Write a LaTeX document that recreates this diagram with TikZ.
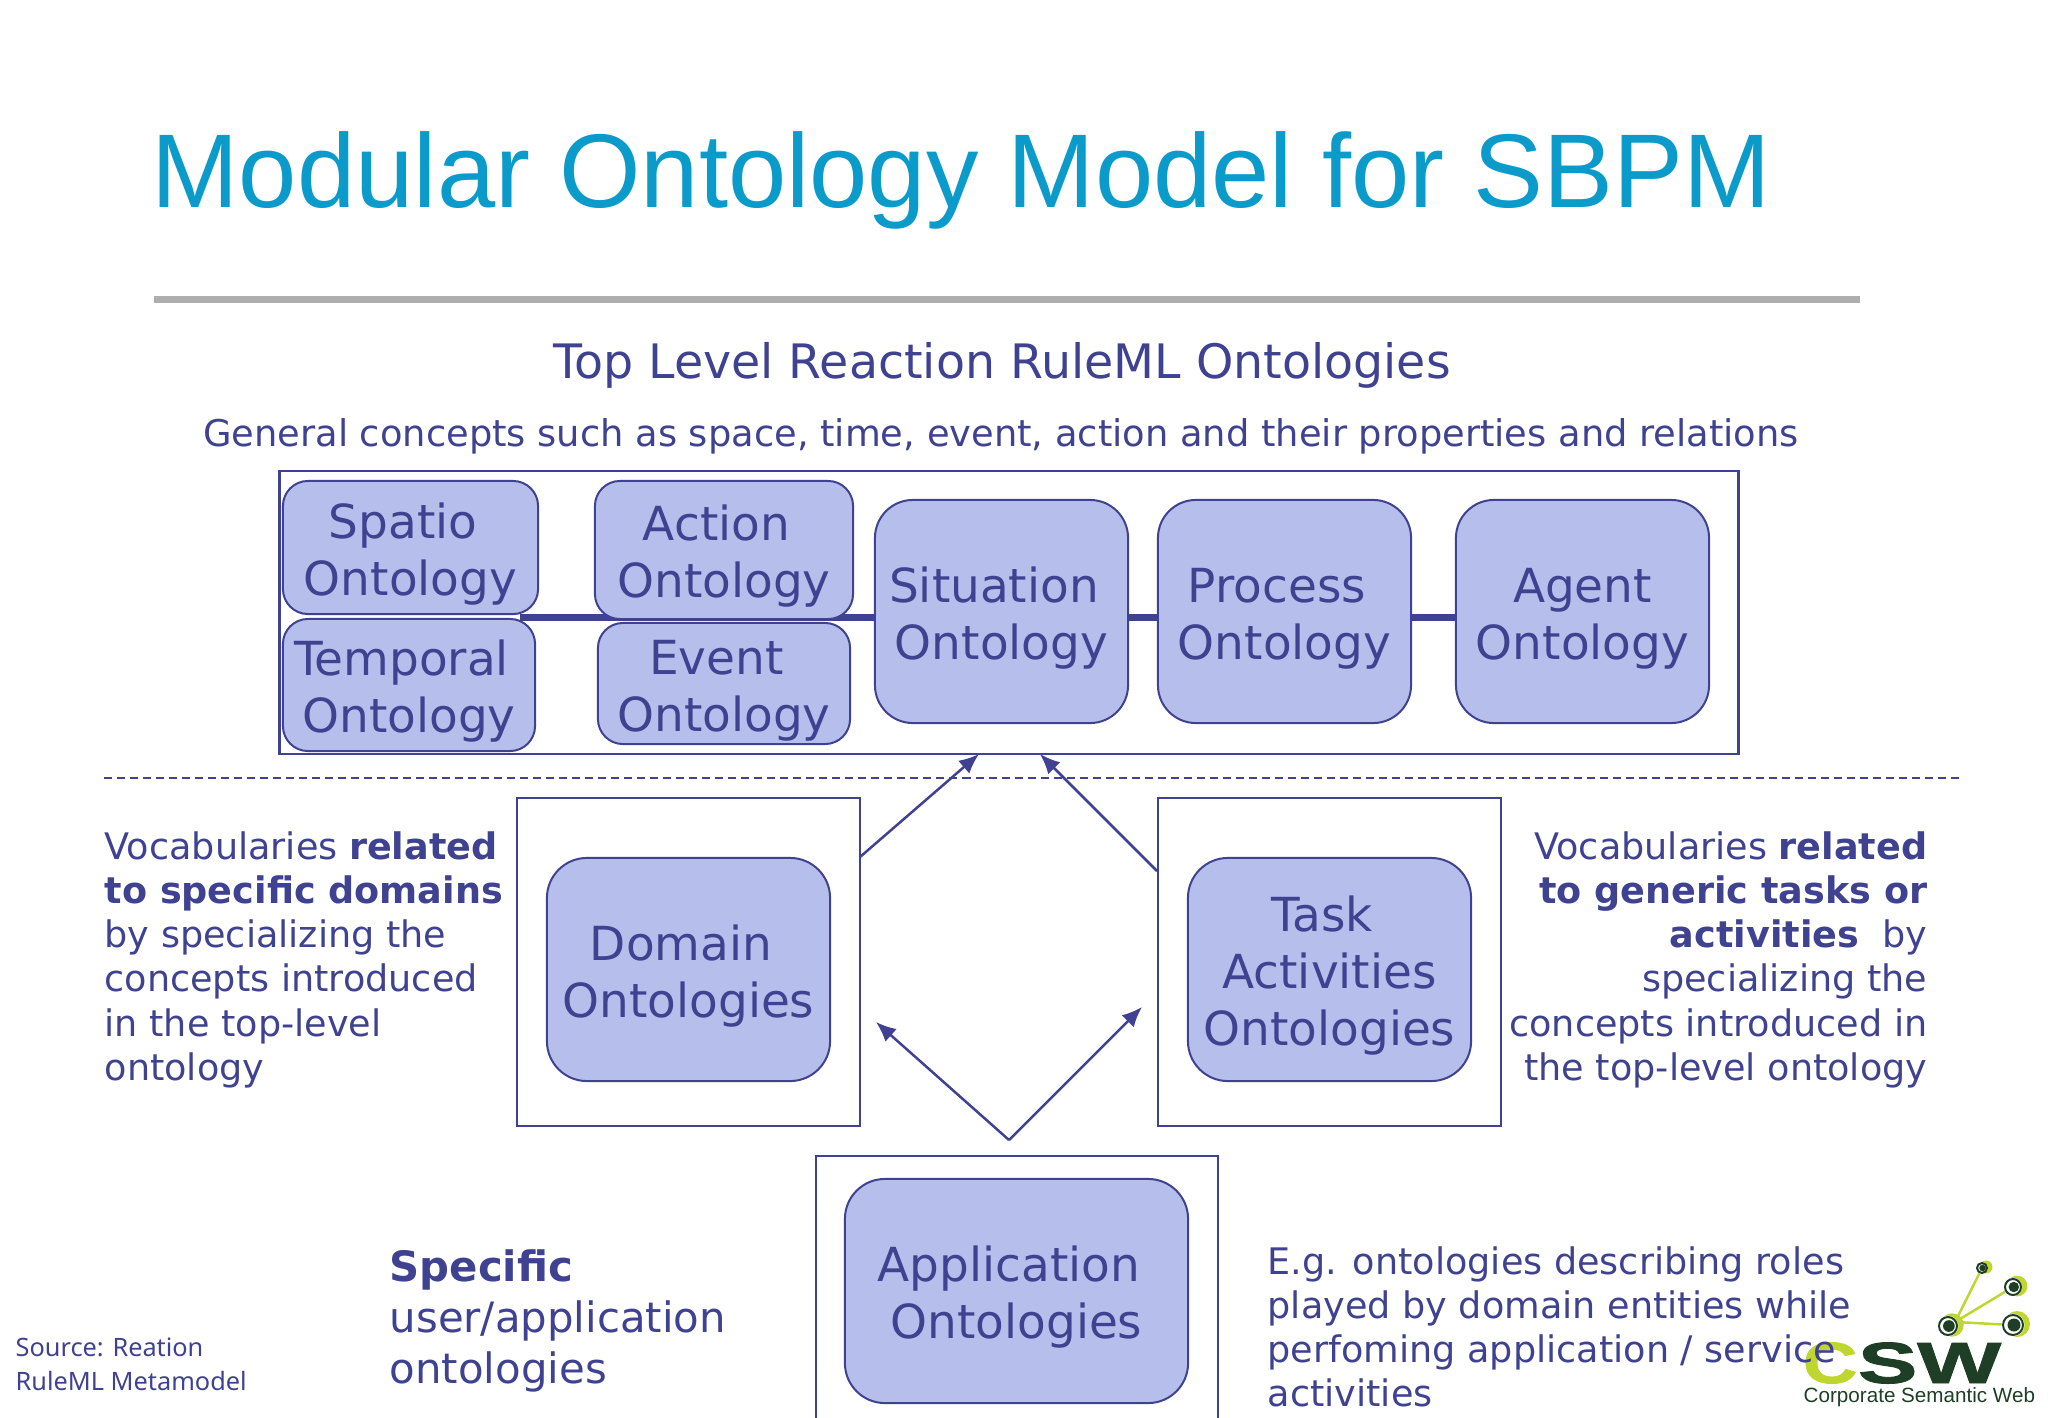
\documentclass[tikz,border=0pt]{standalone}
\usepackage{fontspec}
\setmainfont{DejaVu Sans}
\newfontfamily\arialfont{Liberation Sans}
\newfontfamily\sourcefont{Noto Sans}
\newfontfamily\logofont[BoldFeatures={FakeBold=1.5}]{Liberation Sans}
\usetikzlibrary{arrows.meta}
\definecolor{inkblue}{HTML}{3F4290}
\definecolor{boxblue}{HTML}{B6BFEB}
\definecolor{titleblue}{HTML}{0A9BCB}
\definecolor{rulegray}{HTML}{AEAEAE}
\definecolor{csslime}{HTML}{BFD62F}
\definecolor{cswgreen}{HTML}{1E3F25}
\newcommand{\tsp}{\hspace*{0.32em}}
\newcommand{\ontop}{\rule{0pt}{13.8pt}}
\tikzset{
  onto/.style={draw=inkblue, fill=boxblue, line width=0.2mm, text=inkblue, align=center,
    inner sep=0pt, font=\fontsize{13.35}{16.2}\selectfont},
  frame/.style={draw=inkblue, line width=0.25mm, inner sep=0pt},
  note/.style={text=inkblue, inner sep=0pt, font=\fontsize{10.4}{12.55}\selectfont},
  link/.style={draw=inkblue, line width=0.25mm, -{Latex[length=2mm,width=1.7mm]}},
}
\begin{document}
\begin{tikzpicture}[x=0.01cm, y=-0.01cm]
    \useasboundingbox (0,0) rectangle (2048,1418);
    % Title and rule
    \node[anchor=base west, inner sep=0pt, text=titleblue, font=\arialfont\fontsize{29.8}{36}\selectfont] (title) at (151,207) {Modular Ontology Model for SBPM};
    \draw[rulegray, line width=0.07cm] (154,299) -- (1860,299);
    % Headings
    \node[anchor=base, inner sep=0pt, text=inkblue, font=\fontsize{13.5}{16}\selectfont] (toplevel) at (1002,378) {Top Level Reaction RuleML Ontologies};
    \node[anchor=base, note, font=\fontsize{10.47}{12.55}\selectfont] (general) at (1001,446) {General concepts such as space, time, event, action and their properties and relations};
    % Frames
    \node[frame, minimum width=14.58cm, minimum height=2.83cm] (topframe) at (1009,612.5) {};
    \node[frame, minimum width=3.43cm, minimum height=3.28cm] (domainframe) at (688.5,962) {};
    \node[frame, minimum width=3.43cm, minimum height=3.28cm] (taskframe) at (1329.5,962) {};
    \draw[frame] (816,1418) |- (1218,1156) -- (1218,1418);
    % Dashed separator
    \coordinate (sepleft) at (104,778);
    \coordinate (sepright) at (1959,778);
    \draw[inkblue, line width=0.15mm, dash pattern=on 0.8mm off 0.5mm] (sepleft) -- (sepright);
    % Backbone under the top level boxes
    \coordinate (backstart) at (520,617);
    \coordinate (backend) at (1456,617);
    \draw[inkblue, line width=0.07cm] (backstart) -- (backend);
    % Top level ontologies
    \node[onto, rounded corners=0.25cm, minimum width=2.55cm, minimum height=1.33cm] (spatio) at (410.5,547.5) {\ontop Spatio\tsp\\Ontology};
    \node[onto, rounded corners=0.25cm, minimum width=2.58cm, minimum height=1.38cm] (action) at (724,550) {\ontop Action\tsp\\Ontology};
    \node[onto, rounded corners=0.25cm, minimum width=2.52cm, minimum height=1.32cm] (temporal) at (409,685) {\ontop Temporal\tsp\\Ontology};
    \node[onto, rounded corners=0.25cm, minimum width=2.52cm, minimum height=1.21cm] (event) at (724,683.5) {\ontop Event\tsp\\Ontology};
    \node[onto, rounded corners=0.38cm, minimum width=2.53cm, minimum height=2.23cm] (situation) at (1001.5,611.5) {\ontop Situation\tsp\\Ontology};
    \node[onto, rounded corners=0.38cm, minimum width=2.53cm, minimum height=2.23cm] (process) at (1284.5,611.5) {\ontop Process\tsp\\Ontology};
    \node[onto, rounded corners=0.38cm, minimum width=2.53cm, minimum height=2.23cm] (agent) at (1582.5,611.5) {\ontop Agent\\Ontology};
    % Lower ontologies
    \node[onto, rounded corners=0.4cm, minimum width=2.83cm, minimum height=2.23cm] (domain) at (688.5,969.5) {\ontop Domain\tsp\\Ontologies};
    \node[onto, rounded corners=0.4cm, minimum width=2.83cm, minimum height=2.23cm] (task) at (1329.5,969.5) {\ontop Task\tsp\\Activities\tsp\\Ontologies};
    \node[onto, rounded corners=0.4cm, minimum width=3.43cm, minimum height=2.24cm] (application) at (1016.5,1291) {\ontop Application\tsp\\Ontologies};
    % Arrows
    \coordinate (domainstart) at (860,857);
    \coordinate (domaintip) at (979,754);
    \coordinate (taskstart) at (1157,871);
    \coordinate (tasktip) at (1040,754);
    \coordinate (apex) at (1009,1140);
    \coordinate (lefttip) at (876,1022);
    \coordinate (righttip) at (1142,1007);
    \draw[link] (domainstart) -- (domaintip);
    \draw[link] (taskstart) -- (tasktip);
    \draw[link] (apex) -- (lefttip);
    \draw[link] (apex) -- (righttip);
    % Logo
    \coordinate (hub) at (1955,1322);
    \draw[csslime, line width=0.025cm] (hub) -- (1982,1268);
    \draw[csslime, line width=0.025cm] (hub) -- (2013,1287);
    \draw[csslime, line width=0.025cm] (hub) -- (2013,1325);
    \foreach \cx/\cy/\cr in {1982/1268/5, 2013/1287/8, 2013/1325/10, 1948/1326/9} {
      \fill[csslime] (\cx+4,\cy-1) circle ({\cr*0.01cm*1.3});
      \fill[white] (\cx,\cy) circle ({\cr*0.01cm*1.15});
      \draw[cswgreen, line width=0.02cm] (\cx,\cy) circle ({\cr*0.01cm});
      \fill[cswgreen] (\cx+\cr*0.1,\cy) circle ({\cr*0.01cm*0.65});
    }
    \node[anchor=base west, inner sep=0pt, text=csslime, font=\logofont\bfseries\fontsize{16.5}{20}\selectfont, xscale=1.3] (logoc) at (1802,1383) {C};
    \node[anchor=base west, inner sep=0pt, text=cswgreen, font=\logofont\bfseries\fontsize{16.5}{20}\selectfont, xscale=1.53] (logosw) at (1857,1383) {SW};
    \node[anchor=base west, inner sep=0pt, text=cswgreen, font=\arialfont\fontsize{5.87}{7}\selectfont] (logotext) at (1803,1402) {Corporate Semantic Web};
    % Side notes
    \node[note, anchor=north west, align=left] (domainnote) at (104,831) {Vocabularies \textbf{related}\\\textbf{to specific domains}\\by specializing the\\concepts introduced\\in the top-level\\ontology};
    \node[note, anchor=north east, align=right] (tasknote) at (1928,831) {Vocabularies \textbf{related}\\\textbf{to generic tasks or}\\\textbf{activities}\ \ by\\specializing the\\concepts introduced in\\the top-level ontology};
    \node[note, anchor=north west, align=left, font=\fontsize{11.9}{14.5}\selectfont] (specific) at (389,1249) {\textbf{Specific}\\user/application\\ontologies};
    \node[note, anchor=north west, align=left] (example) at (1267,1246) {E.g. ontologies describing roles\\played by domain entities while\\perfoming application / service\\activities};
    \node[note, anchor=north west, align=left, font=\sourcefont\fontsize{7.2}{9.7}\selectfont] (source) at (15,1337) {Source: Reation\\RuleML Metamodel};
\end{tikzpicture}
\end{document}
